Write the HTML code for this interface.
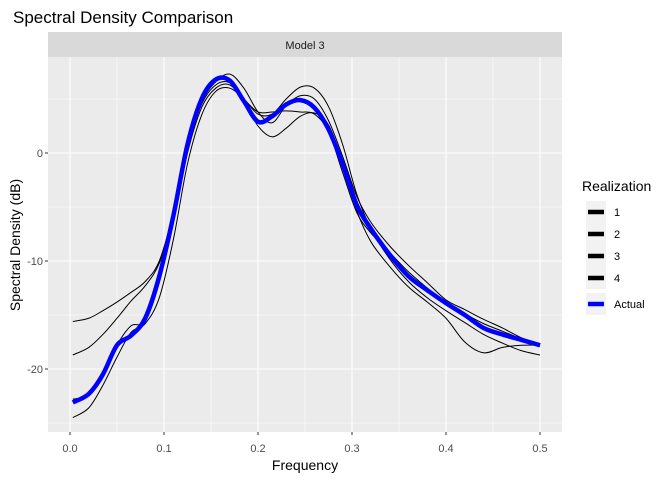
<!DOCTYPE html>
<html><head><meta charset="utf-8"><style>
body{margin:0;background:#fff;font-family:"Liberation Sans",Arial,sans-serif}
svg text{font-family:"Liberation Sans",Arial,sans-serif}
</style></head><body>
<svg id="chart" width="672" height="480" xmlns="http://www.w3.org/2000/svg">
<rect width="672" height="480" fill="#fff"/>
<text x="13" y="23" font-size="17" fill="#000">Spectral Density Comparison</text>
<rect x="48" y="32" width="514" height="25" fill="#d9d9d9"/>
<text x="305" y="49" font-size="11" fill="#1a1a1a" text-anchor="middle">Model 3</text>
<rect x="48" y="57" width="514" height="375" fill="#ebebeb"/>
<g id="grid"></g><g id="axes"></g><g id="series"></g>
<text x="305" y="470" font-size="14" fill="#000" text-anchor="middle">Frequency</text>
<text transform="translate(20,245) rotate(-90)" font-size="14" fill="#000" text-anchor="middle">Spectral Density (dB)</text>
<g id="legend"></g>
</svg>
<script>
const freqs=[0.003,0.02,0.035,0.05,0.065,0.08,0.095,0.11,0.125,0.14,0.155,0.17,0.185,0.2,0.215,0.23,0.245,0.26,0.275,0.29,0.305,0.32,0.34,0.36,0.38,0.4,0.42,0.44,0.46,0.48,0.5];
const real1=[-15.6,-15.3,-14.6,-13.8,-12.9,-11.9,-10.0,-5.5,0.5,4.5,6.3,6.5,5.0,3.8,3.8,3.9,3.8,3.6,2.0,-1.8,-5.5,-7.4,-9.2,-11.0,-12.5,-14.0,-14.9,-15.8,-16.5,-17.2,-17.9];
const real2=[-18.7,-18.0,-16.8,-15.3,-13.7,-12.3,-10.2,-6.0,0.2,4.6,6.6,7.3,6.0,3.8,2.8,4.4,5.3,5.0,3.0,-0.3,-4.0,-6.4,-8.6,-10.4,-12.0,-13.6,-14.5,-15.4,-16.2,-17.1,-17.7];
const real3=[-22.8,-22.4,-20.8,-17.8,-16.0,-15.6,-12.0,-6.3,0.0,4.2,6.0,6.3,4.8,2.5,1.5,2.3,3.4,3.7,2.6,-0.8,-5.3,-8.2,-10.5,-12.4,-13.8,-15.3,-17.5,-18.5,-18.0,-17.8,-17.8];
const real4=[-24.5,-23.6,-21.5,-18.9,-16.6,-15.8,-13.4,-8.0,-1.0,3.5,5.7,6.0,5.0,3.6,3.6,5.0,6.1,6.0,4.3,0.8,-3.8,-7.0,-9.8,-11.9,-13.4,-14.6,-15.7,-16.8,-17.6,-18.3,-18.7];
const actual=[-23.1,-22.3,-20.5,-17.8,-16.9,-15.3,-11.4,-5.8,0.8,5.0,6.8,6.7,4.8,2.9,3.4,4.5,4.9,4.2,2.2,-1.0,-4.8,-7.0,-9.4,-11.4,-12.7,-13.9,-15.0,-16.2,-16.8,-17.3,-17.8];
const xTicks=[0,0.1,0.2,0.3,0.4,0.5];
const xTickLabels=["0.0","0.1","0.2","0.3","0.4","0.5"];
const yTicks=[0,-10,-20];
const yTickLabels=["0","-10","-20"];
const legendLabels=["1","2","3","4","Actual"];

const NS="http://www.w3.org/2000/svg";
const X=f=>70+f*940;
const Y=v=>153-v*10.8;
function mk(tag,attrs,parent){const e=document.createElementNS(NS,tag);for(const k in attrs)e.setAttribute(k,attrs[k]);parent.appendChild(e);return e;}
const grid=document.getElementById('grid'),axes=document.getElementById('axes'),ser=document.getElementById('series'),leg=document.getElementById('legend');
for(let i=0;i<xTicks.length;i++){
  const mn=xTicks[i]+0.05;
  if(mn<=0.55){const m=mk('line',{x1:X(mn),x2:X(mn),y1:57,y2:432,stroke:'#fff','stroke-width':0.6},grid);
  
  }
  const g=mk('line',{x1:X(xTicks[i]),x2:X(xTicks[i]),y1:57,y2:432,stroke:'#fff','stroke-width':1.1},grid);
  
  
  mk('line',{x1:X(xTicks[i]),x2:X(xTicks[i]),y1:432,y2:435,stroke:'#333'},axes);
  const t=mk('text',{x:X(xTicks[i]),y:452,'font-size':11,fill:'#4d4d4d','text-anchor':'middle'},axes);
  t.textContent=xTickLabels[i];
  
  
}
const yMinor=[5,-5,-15,-25];
for(const v of yMinor){const m=mk('line',{x1:48,x2:562,y1:Y(v),y2:Y(v),stroke:'#fff','stroke-width':0.6},grid);
  
  }
for(let i=0;i<yTicks.length;i++){
  const g=mk('line',{x1:48,x2:562,y1:Y(yTicks[i]),y2:Y(yTicks[i]),stroke:'#fff','stroke-width':1.1},grid);
  
  
  mk('line',{x1:45,x2:48,y1:Y(yTicks[i]),y2:Y(yTicks[i]),stroke:'#333'},axes);
  const t=mk('text',{x:43,y:Y(yTicks[i])+4,'font-size':11,fill:'#4d4d4d','text-anchor':'end'},axes);
  t.textContent=yTickLabels[i];
  
  
}
function pathFor(vals){
  const p=freqs.map((f,i)=>[X(f),Y(vals[i])]);
  let d='M'+p[0][0]+','+p[0][1];
  for(let i=0;i<p.length-1;i++){
    const p0=p[Math.max(0,i-1)],p1=p[i],p2=p[i+1],p3=p[Math.min(p.length-1,i+2)];
    const c1=[p1[0]+(p2[0]-p0[0])/6,p1[1]+(p2[1]-p0[1])/6];
    const c2=[p2[0]-(p3[0]-p1[0])/6,p2[1]-(p3[1]-p1[1])/6];
    d+=' C'+c1[0]+','+c1[1]+' '+c2[0]+','+c2[1]+' '+p2[0]+','+p2[1];
  }
  return d;
}
const reals=[real1,real2,real3,real4];
reals.forEach((r,i)=>{
  const l=mk('path',{d:pathFor(r),fill:'none',stroke:'#000','stroke-width':1},ser);
  
  
});
const a=mk('path',{d:pathFor(actual),fill:'none',stroke:'#0000ff','stroke-width':4.5,'stroke-linejoin':'round'},ser);



const lt=mk('text',{x:582,y:191,'font-size':14,fill:'#000'},leg);
lt.textContent='Realization';


legendLabels.forEach((lab,i)=>{
  const yc=[212,234,256,278,304][i];
  const g=mk('g',{},leg);
  
  
  mk('rect',{x:586,y:yc-11,width:20,height:22,fill:'#f2f2f2'},g);
  mk('line',{x1:588,x2:604,y1:yc,y2:yc,stroke:i<4?'#000':'#0000ff','stroke-width':4.5},g);
  const t=mk('text',{x:614,y:yc+4,'font-size':11,fill:'#000'},g);
  t.textContent=lab;
});
</script>
</body></html>
